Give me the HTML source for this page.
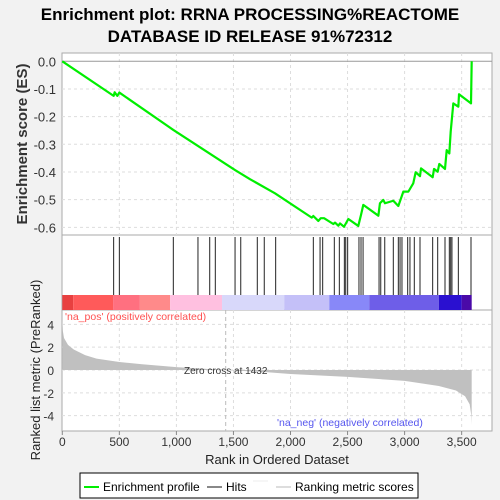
<!DOCTYPE html>
<html><head><meta charset="utf-8"><style>
body{margin:0;background:#f2f2f2;font-family:"Liberation Sans",sans-serif}
svg{display:block}
</style></head><body>
<svg id="c" width="500" height="500" xmlns="http://www.w3.org/2000/svg"></svg>
<script>
const esRanks=[0,450,459,482,500,973,1514,1645,1864,2186,2200,2244,2265,2294,2375,2390,2419,2434,2469,2507,2594,2618,2638,2770,2784,2813,2828,2901,2945,2989,3033,3076,3097,3135,3144,3246,3258,3290,3304,3354,3369,3392,3404,3427,3471,3477,3582,3588];
const esValues=[0,-0.125,-0.112,-0.125,-0.113,-0.248,-0.393,-0.426,-0.477,-0.565,-0.559,-0.577,-0.567,-0.567,-0.588,-0.583,-0.594,-0.586,-0.598,-0.570,-0.595,-0.555,-0.519,-0.558,-0.513,-0.501,-0.513,-0.504,-0.523,-0.471,-0.471,-0.441,-0.401,-0.415,-0.387,-0.419,-0.389,-0.399,-0.371,-0.389,-0.321,-0.333,-0.254,-0.152,-0.164,-0.119,-0.152,0];
const hitRanks=[450,500,973,1189,1292,1341,1514,1564,1709,1770,1870,2200,2259,2282,2384,2428,2472,2484,2501,2600,2618,2636,2776,2791,2826,2901,2945,2960,2977,3027,3047,3085,3135,3246,3290,3354,3392,3404,3415,3471,3582];
const metricRanks=[0,5,15,50,100,200,300,500,700,1000,1432,1800,2000,2500,3000,3300,3450,3530,3570,3585,3588];
const metricValues=[4.3,3.4,2.8,2.2,1.8,1.3,1.0,0.7,0.5,0.25,0,-0.2,-0.35,-0.6,-0.95,-1.4,-1.8,-2.3,-3.0,-4.0,-4.8];
const xTicks=[0,500,1000,1500,2000,2500,3000,3500];
const esTicks=[0,-0.1,-0.2,-0.3,-0.4,-0.5,-0.6];
const mTicks=[4,2,0,-2,-4];
const N=3588, zeroCross=1432;
const X=r=>62.3+r*0.1141;
const YE=v=>61.3-v*276.7;
const YM=v=>370-v*11.42;
const L=62,R=492;
const svg=document.getElementById('c');
const NS='http://www.w3.org/2000/svg';
function el(tag,attrs,parent){const e=document.createElementNS(NS,tag);for(const k in attrs)e.setAttribute(k,attrs[k]);(parent||svg).appendChild(e);return e;}
function txt(s,attrs){const e=el('text',attrs);e.textContent=s;return e;}
// title
let t=txt('Enrichment plot: RRNA PROCESSING%REACTOME',{x:250,y:20,'text-anchor':'middle','font-size':17,'font-weight':'bold',fill:'#000'});

t=txt('DATABASE ID RELEASE 91%72312',{x:250,y:42,'text-anchor':'middle','font-size':17,'font-weight':'bold',fill:'#000'});

// panels
let p=el('rect',{x:L,y:53,width:R-L,height:182,fill:'#fff',stroke:'#aaa'});

p=el('rect',{x:L,y:235,width:R-L,height:75,fill:'#fff',stroke:'#aaa'});

p=el('rect',{x:L,y:310,width:R-L,height:121,fill:'#fff',stroke:'#aaa'});

// grids
xTicks.slice(1).forEach(v=>{
  el('line',{x1:X(v),x2:X(v),y1:53,y2:235,stroke:'#ddd','stroke-dasharray':'3,3'});
  el('line',{x1:X(v),x2:X(v),y1:310,y2:431,stroke:'#ddd','stroke-dasharray':'3,3'});
});
esTicks.forEach(v=>{
  el('line',{x1:L,x2:R,y1:YE(v),y2:YE(v),stroke:v===0?'#999':'#ddd','stroke-dasharray':v===0?'':'3,3'});
  const tt=txt(v===0?'0.0':v.toFixed(1),{x:56,y:YE(v)+5,'text-anchor':'end','font-size':13,fill:'#333'});
  
});
mTicks.forEach(v=>{
  el('line',{x1:L,x2:R,y1:YM(v),y2:YM(v),stroke:'#ddd','stroke-dasharray':'3,3'});
  const tt=txt(String(v),{x:54,y:YM(v)+5,'text-anchor':'end','font-size':12,fill:'#333'});
  
});
// color bar
const segs=[[0,'#e84040'],[95,'#ff5a5a'],[445,'#ff7080'],[680,'#ff8a8a'],[945,'#ffc0e0'],[1400,'#d8d8fa'],[1945,'#c4c0f8'],[2340,'#8888f8'],[2690,'#6e5ee8'],[3300,'#2a10d0'],[3500,'#4a0aa8'],[N,null]];
for(let i=0;i<segs.length-1;i++){
  const s=el('rect',{x:X(segs[i][0]),y:295,width:X(segs[i+1][0])-X(segs[i][0]),height:15,fill:segs[i][1]});
  
}
// hits
hitRanks.forEach(r=>{
  const h=el('line',{x1:X(r),x2:X(r),y1:237,y2:295,stroke:'#222','stroke-width':1});
  
});
// metric area
let d='M'+X(0)+','+YM(0);
metricRanks.forEach((r,i)=>{d+=' L'+X(r)+','+YM(metricValues[i]);});
d+=' L'+X(N)+','+YM(0)+' Z';
const a=el('path',{d:d,fill:'#c0c0c0'});

el('line',{x1:X(zeroCross),x2:X(zeroCross),y1:310,y2:431,stroke:'#bbb','stroke-dasharray':'4,3'});
t=txt('Zero cross at '+zeroCross,{x:X(zeroCross),y:374,'text-anchor':'middle','font-size':10,fill:'#333'});

t=txt("'na_pos' (positively correlated)",{x:65,y:320,'font-size':10.5,fill:'#ff5050'});

t=txt("'na_neg' (negatively correlated)",{x:277,y:426,'font-size':10.5,fill:'#5555ee'});

// ES line
const pts=esRanks.map((r,i)=>X(r)+','+YE(esValues[i])).join(' ');
const pl=el('polyline',{points:pts,fill:'none',stroke:'#00ee00','stroke-width':2.2,'stroke-linejoin':'round'});

// x ticks
xTicks.forEach(v=>{
  el('line',{x1:X(v),x2:X(v),y1:431,y2:435,stroke:'#888'});
  const tt=txt(v.toLocaleString('en-US'),{x:X(v),y:446,'text-anchor':'middle','font-size':12,fill:'#333'});
  
});
t=txt('Rank in Ordered Dataset',{x:277,y:464,'text-anchor':'middle','font-size':13,fill:'#222'});

t=txt('Enrichment score (ES)',{x:0,y:0,'text-anchor':'middle','font-size':15,'font-weight':'bold',fill:'#333',transform:'translate(27,144) rotate(-90)'});

t=txt('Ranked list metric (PreRanked)',{x:0,y:0,'text-anchor':'middle','font-size':13,fill:'#222',transform:'translate(40,370) rotate(-90)'});

// legend
const lg=el('g',{});

el('rect',{x:80,y:473,width:338,height:25,fill:'#fff',stroke:'#000'},lg);
el('line',{x1:84,x2:99,y1:487,y2:487,stroke:'#00ee00','stroke-width':2},lg);
let lt=el('text',{x:103,y:491,'font-size':12,fill:'#000'},lg);lt.textContent='Enrichment profile';

el('line',{x1:207,x2:222,y1:487,y2:487,stroke:'#888','stroke-width':2},lg);
lt=el('text',{x:226,y:491,'font-size':12,fill:'#000'},lg);lt.textContent='Hits';

el('line',{x1:253,x2:268,y1:481,y2:481,stroke:'#eee','stroke-width':1},lg);
el('line',{x1:276,x2:291,y1:487,y2:487,stroke:'#ddd','stroke-width':2},lg);
lt=el('text',{x:295,y:491,'font-size':12,fill:'#000'},lg);lt.textContent='Ranking metric scores';

</script>
</body></html>
